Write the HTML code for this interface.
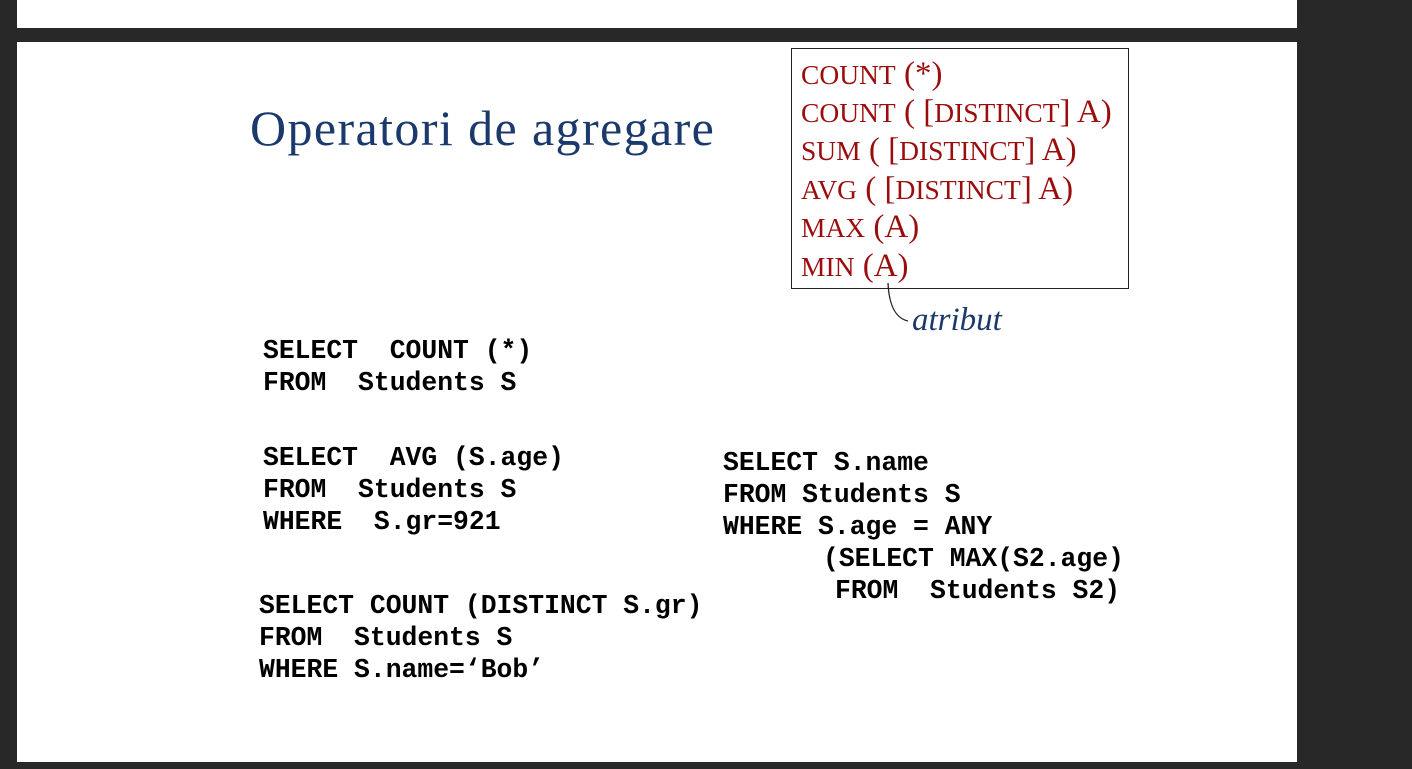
<!DOCTYPE html>
<html><head><style>
body{margin:0;width:1412px;height:769px;background:#282828;position:relative;overflow:hidden}
.w{position:absolute;background:#fff}
.t{position:absolute;white-space:pre;line-height:1}
.m{font-family:"Liberation Mono",monospace;font-weight:bold;font-size:26.4px;color:#000;line-height:32px}
.r{font-family:"Liberation Serif",serif;font-size:33px;color:#9b0d0d;left:801px}
.sc{font-size:27.5px}
</style></head><body>
<div class="w" style="left:17px;top:0;width:1280px;height:28px"></div>
<div class="w" style="left:17px;top:42px;width:1280px;height:720px"></div>
<div class="t" style="left:250px;top:103px;font-family:'Liberation Serif',serif;font-size:50px;letter-spacing:1.4px;color:#1b3a6b">Operatori de agregare</div>
<div style="position:absolute;left:791px;top:48px;width:336px;height:239px;border:1.5px solid #222"></div>
<div class="t r" style="top:58px"><span class="sc">COUNT</span> (*)</div>
<div class="t r" style="top:96px"><span class="sc">COUNT</span> ( [<span class="sc">DISTINCT</span>] A)</div>
<div class="t r" style="top:134px"><span class="sc">SUM</span> ( [<span class="sc">DISTINCT</span>] A)</div>
<div class="t r" style="top:173px"><span class="sc">AVG</span> ( [<span class="sc">DISTINCT</span>] A)</div>
<div class="t r" style="top:211px"><span class="sc">MAX</span> (A)</div>
<div class="t r" style="top:250px"><span class="sc">MIN</span> (A)</div>
<svg style="position:absolute;left:0;top:0" width="1412" height="769"><path d="M888 283 C889 305 895 318 908 321" fill="none" stroke="#222" stroke-width="1.3"/></svg>
<div class="t" style="left:912px;top:304px;font-family:'Liberation Serif',serif;font-style:italic;font-size:33px;color:#1b3a6b">atribut</div>
<div class="t m" style="left:263px;top:335px">SELECT  COUNT (*)
FROM  Students S</div>
<div class="t m" style="left:263px;top:442px">SELECT  AVG (S.age)
FROM  Students S
WHERE  S.gr=921</div>
<div class="t m" style="left:259px;top:590px">SELECT COUNT (DISTINCT S.gr)
FROM  Students S
WHERE S.name=‘Bob’</div>
<div class="t m" style="left:723px;top:447px">SELECT S.name
FROM Students S
WHERE S.age = ANY</div>
<div class="t m" style="left:823px;top:543px">(SELECT MAX(S2.age)</div>
<div class="t m" style="left:835px;top:575px">FROM  Students S2)</div>
</body></html>
